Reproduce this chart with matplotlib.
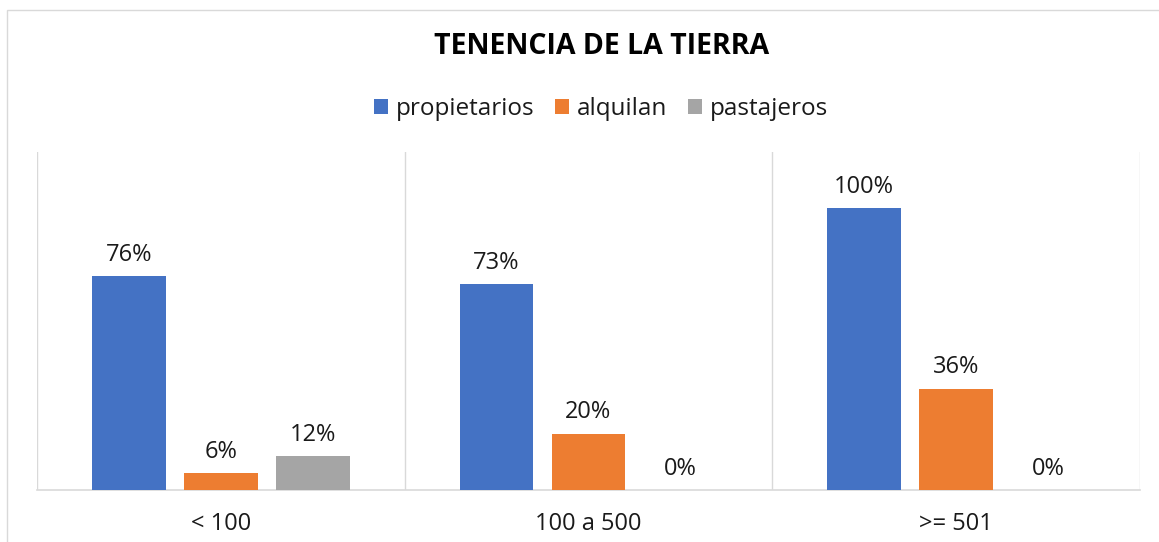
import numpy as np
from matplotlib import pyplot as plt
from matplotlib.patches import Rectangle

categorias = ['< 100', '100 a 500', '>= 501']
series = ['propietarios', 'alquilan', 'pastajeros']
propietarios = [0.76, 0.73, 1.00]
alquilan = [0.06, 0.20, 0.36]
pastajeros = [0.12, 0.00, 0.00]
colores = ['#4472C4', '#ED7D31', '#A5A5A5']

plt.rcParams['font.family'] = ['Open Sans', 'DejaVu Sans']

fig = plt.figure(figsize=(11.59, 5.42), dpi=100)
# chart border, like the excel frame (it runs off the right edge)
fig.patches.append(Rectangle((7 / 1159, -0.01), 1.02, 1 - 10 / 542 + 0.01,
                             transform=fig.transFigure, fill=False,
                             edgecolor='#D9D9D9', linewidth=1))
ax = fig.add_axes([37 / 1159, 52 / 542, 1103 / 1159, 338 / 542])

x = np.arange(len(categorias))
ancho = 0.2
paso = 0.25
for i, (nombre, vals) in enumerate(zip(series, [propietarios, alquilan, pastajeros])):
    pos = x + (i - 1) * paso
    barras = ax.bar(pos, vals, ancho, color=colores[i], label=nombre, zorder=3)
    for b, v in zip(barras, vals):
        ax.text(b.get_x() + b.get_width() / 2, v + 0.033, f'{v * 100:.0f}%',
                ha='center', va='bottom', fontsize=17, color='#1A1A1A')

ax.set_xlim(-0.5, 2.5)
ax.set_ylim(0, 1.2)
ax.set_yticks([])
ax.set_xticks(x)
ax.set_xticklabels(categorias, fontsize=17, color='#1A1A1A')
ax.tick_params(axis='x', length=0, pad=16)
for s in ['top', 'right', 'left']:
    ax.spines[s].set_visible(False)
ax.spines['bottom'].set_color('#D9D9D9')
ax.spines['bottom'].set_linewidth(1.2)
for xv in [-0.5, 0.5, 1.5, 2.5]:
    ax.axvline(xv, color='#D9D9D9', linewidth=1, zorder=1)

fig.text(602 / 1159, 1 - 47 / 542, 'TENENCIA DE LA TIERRA', ha='center', va='center',
         fontsize=20.5, fontweight='bold', color='black')
fig.legend(loc='center', bbox_to_anchor=(601 / 1159, 1 - 109 / 542), ncol=3, frameon=False,
           fontsize=17.5, handlelength=0.58, handleheight=0.58, handletextpad=0.33,
           columnspacing=0.85, labelcolor='#1A1A1A')

fig.savefig('out.png', dpi=100)
